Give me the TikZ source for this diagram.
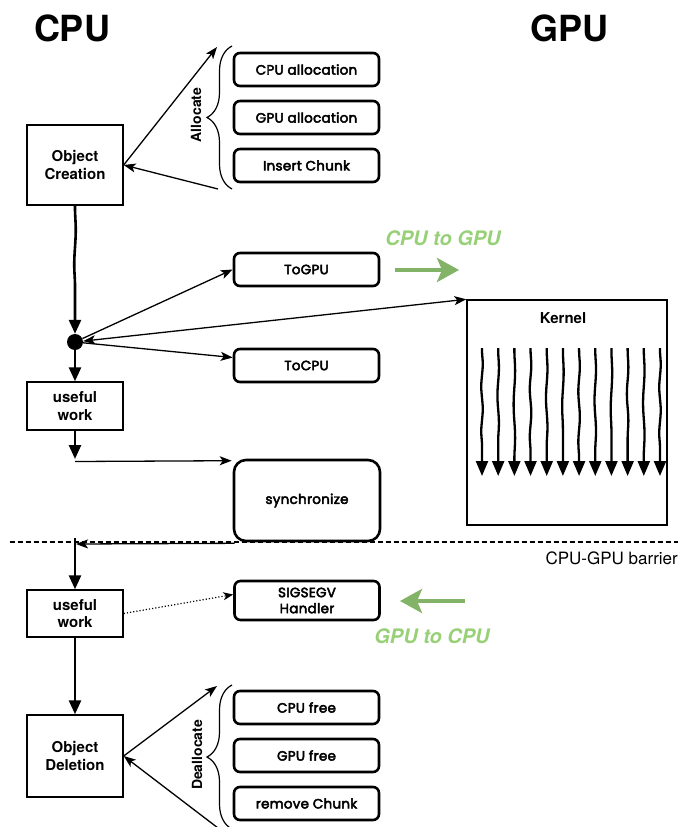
\documentclass[tikz,border=0pt]{standalone}
\usepackage{fontspec}
\setmainfont{TeX Gyre Heros}
\newfontfamily\handfont{Poppins}[FakeBold=3.5,LetterSpace=2]
\usetikzlibrary{arrows.meta,decorations.pathreplacing,decorations.pathmorphing,calc}
\definecolor{greenline}{HTML}{82B366}
\definecolor{greentext}{HTML}{97D077}
\begin{document}
\begin{tikzpicture}[x=1pt,y=-1pt,
  plainbox/.style={draw, line width=1.4pt, minimum width=96pt, align=center,
    font=\bfseries\fontsize{15}{17.5}\selectfont, inner sep=2pt},
  taskbox/.style={draw, line width=2.6pt, rounded corners=6pt, minimum width=145pt,
    minimum height=33pt, align=center, inner sep=2pt,
    font=\handfont\fontsize{13.5}{16}\selectfont},
  thinarrow/.style={line width=1.3pt, -{Stealth[length=12pt,width=9pt,inset=3pt]}},
  thickarrow/.style={line width=2.6pt, -{Triangle[length=14pt,width=12pt]}},
  greenarrow/.style={greenline, line width=4pt, -{Stealth[length=22pt,width=24pt,inset=5pt]}},
  greenlabel/.style={greentext, font=\bfseries\itshape\fontsize{20}{24}\selectfont},
  bracelabel/.style={rotate=90, font=\bfseries\fontsize{14}{16}\selectfont},
  bracestyle/.style={line width=1.2pt, decorate, decoration={brace, amplitude=25pt}},
  title/.style={font=\bfseries\fontsize{36}{40}\selectfont},
  wavy/.style={decorate, decoration={snake, amplitude=0.75pt, segment length=#1,
    pre length=2pt, post length=14pt}},
]
\useasboundingbox (0,0) rectangle (678,827);

% headings
\node[title] (cputitle) at (72,28) {CPU};
\node[title] (gputitle) at (569,28) {GPU};

% CPU side
\node[plainbox, minimum height=80pt] (oc) at (75,165) {Object\\Creation};
\node[circle, fill, minimum size=16pt, inner sep=0pt] (dot) at (75,342) {};
\node[plainbox, minimum height=48pt] (uw1) at (75,406) {useful\\work};
\node[plainbox, minimum height=47pt] (uw2) at (75,613.5) {useful\\work};
\node[plainbox, minimum height=82pt] (od) at (75,756) {Object\\Deletion};

% allocation steps
\node[taskbox] (cpualloc) at (306.5,69.5) {CPU allocation};
\node[taskbox] (gpualloc) at (306.5,117.5) {GPU allocation};
\node[taskbox] (insert) at (306.5,165.5) {Insert Chunk};

% transfers
\node[taskbox] (togpu) at (306.5,269.5) {ToGPU};
\node[taskbox] (tocpu) at (306.5,365.5) {ToCPU};
\node[taskbox, minimum width=146pt, minimum height=81pt, rounded corners=12pt] (sync) at (307,500.5) {synchronize};
\node[taskbox, minimum height=39pt] (sigsegv) at (307,600.5) {SIGSEGV\\Handler};

% deallocation steps
\node[taskbox] (cpufree) at (306.5,707.5) {CPU free};
\node[taskbox] (gpufree) at (306.5,755.5) {GPU free};
\node[taskbox] (rmchunk) at (306.5,803.5) {remove Chunk};

% GPU kernel
\node[draw, line width=1.4pt, minimum width=200pt, minimum height=225pt] (kernel) at (567,412.5) {};
\node[font=\bfseries\fontsize{15}{17}\selectfont] (kernellabel) at (563,318) {Kernel};
\foreach \i in {0,...,11} {
  \pgfmathsetmacro{\kx}{482+\i*16.18}
  \pgfmathsetmacro{\seg}{45+mod(\i*11,30)}
  \coordinate (kt\i) at (\kx,348);
  \coordinate (kb\i) at (\kx,476);
  \draw[line width=2.3pt, -{Triangle[length=15pt,width=12pt]}, wavy=\seg pt] (kt\i) -- (kb\i);
}

% braces
\coordinate (abrtop) at (232,46);
\coordinate (abrbot) at (232,189);
\draw[bracestyle] (abrbot) -- (abrtop);
\node[bracelabel] (alloclabel) at (196,115) {Allocate};
\coordinate (dbrtop) at (232,685);
\coordinate (dbrbot) at (232,829);
\draw[bracestyle] (dbrbot) -- (dbrtop);
\node[bracelabel] (dealloclabel) at (197,755) {Deallocate};

% brace connectors
\coordinate (aup) at (217,47);
\coordinate (alow) at (218,189);
\draw[thinarrow] (oc.east) -- (aup);
\draw[thinarrow] (alow) -- (oc.east);
\coordinate (dup) at (217,686);
\coordinate (dlow) at (218,828);
\draw[thinarrow] (od.east) -- (dup);
\draw[thinarrow] (dlow) -- (od.east);

% CPU flow
\draw[thickarrow, wavy=70pt] (oc.south) -- (dot.north);
\draw[thickarrow] (dot.south) -- (uw1.north);
\draw[thinarrow] (dot) -- (togpu.west);
\draw[thinarrow, {Stealth[length=12pt,width=9pt,inset=3pt]}-{Stealth[length=12pt,width=9pt,inset=3pt]}] (dot) -- (kernel.north west);
\draw[thinarrow] (dot) -- ([yshift=8pt]tocpu.west);

\coordinate (uwstop) at (75,459);
\coordinate (syncfrom) at (75,461.5);
\draw[thickarrow] (uw1.south) -- (uwstop);
\draw[thinarrow] (syncfrom) -- ([xshift=-1pt,yshift=-2pt]sync.north west);

\coordinate (barrierpt) at (76,544);
\coordinate (barriertop) at (75,538);
\draw[thinarrow] ([xshift=2pt,yshift=-1pt]sync.south west) -- (barrierpt);
\draw[thickarrow] (barriertop) -- (uw2.north);
\draw[line width=1.2pt, dotted, -{Stealth[length=10pt,width=8pt,inset=3pt]}] (uw2.east) -- ([yshift=6pt]sigsegv.west);
\draw[thickarrow] (uw2.south) -- (od.north);

% barrier
\coordinate (barl) at (10,542);
\coordinate (barr) at (678,542);
\draw[line width=1.2pt, dash pattern=on 4.5pt off 3.5pt] (barl) -- (barr);
\node[anchor=east, font=\fontsize{17}{20}\selectfont, inner sep=0pt] (barlabel) at (678,558) {CPU-GPU barrier};

% transfer directions
\coordinate (c2gfrom) at (395,270);
\coordinate (c2gto) at (459,270);
\draw[greenarrow] (c2gfrom) -- (c2gto);
\node[greenlabel] (c2glabel) at (443,238) {CPU to GPU};
\coordinate (g2cfrom) at (465,601);
\coordinate (g2cto) at (400,601);
\draw[greenarrow] (g2cfrom) -- (g2cto);
\node[greenlabel] (g2clabel) at (432,636) {GPU to CPU};
\end{tikzpicture}
\end{document}
